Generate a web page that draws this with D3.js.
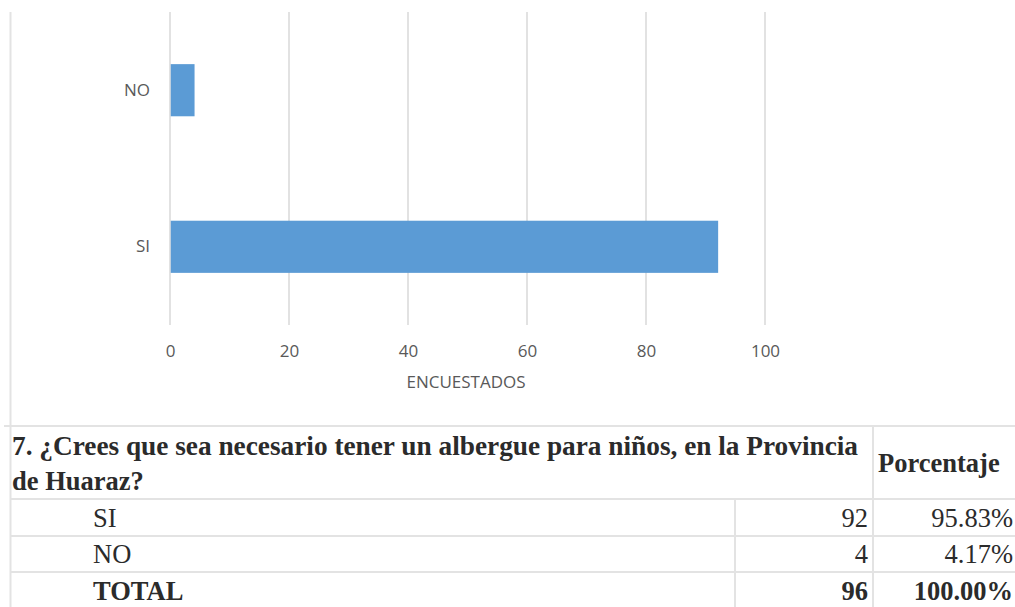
<!DOCTYPE html>
<html>
<head>
<meta charset="utf-8">
<script src="https://cdn.jsdelivr.net/npm/d3@7"></script>
<style>
  html, body { margin: 0; padding: 0; background: #fff; }
  svg { display: block; }
  .tick-label { font-family: "Open Sans", "Noto Sans", sans-serif; font-size: 17px; fill: #595959; }
  .cell { font-family: "Liberation Serif", "Times New Roman", serif; font-size: 26.5px; fill: #2b2b2b; }
</style>
</head>
<body>
<div id="chart"></div>
<script>
(function () {
  'use strict';

  // chart data
  var categories = ['NO', 'SI'];
  var respondents = [4, 92];
  var xTicks = [0, 20, 40, 60, 80, 100];
  var xTitle = 'ENCUESTADOS';

  // table data
  var questionLines = ['7. ¿Crees que sea necesario tener un albergue para niños, en la Provincia', 'de Huaraz?'];
  var pctHeader = 'Porcentaje';
  var rowLabels = ['SI', 'NO'];
  var rowCounts = [92, 4];
  var rowPcts = ['95.83%', '4.17%'];
  var totalLabel = 'TOTAL';
  var totalCount = 96;
  var totalPct = '100.00%';

  var W = 1015, H = 607;
  var gridColor = '#d9d9d9';
  var lineColor = '#e3e3e3';

  var svg = d3.select('#chart').append('svg').attr('width', W).attr('height', H);

  var x = d3.scaleLinear().domain([0, 100]).range([170, 765]);
  var y = d3.scaleBand().domain(categories).range([12, 325]).paddingInner(0.667).paddingOuter(0.333);

  // frame line on the left
  svg.append('line').attr('x1', 10.5).attr('x2', 10.5).attr('y1', 12).attr('y2', H)
    .attr('stroke', lineColor).attr('stroke-width', 2);

  // gridlines
  svg.append('g').selectAll('line').data(xTicks).join('line')
    .attr('x1', function (d) { return x(d); })
    .attr('x2', function (d) { return x(d); })
    .attr('y1', 12).attr('y2', 325)
    .attr('stroke', gridColor).attr('stroke-width', 1.5);

  // bars
  var data = categories.map(function (c, i) { return { cat: c, v: respondents[i] }; });
  svg.append('g').selectAll('rect').data(data).join('rect')
    .attr('x', x(0) + 0.75)
    .attr('y', function (d) { return y(d.cat); })
    .attr('width', function (d) { return x(d.v) - x(0); })
    .attr('height', y.bandwidth())
    .attr('fill', '#5b9bd5');

  // x axis labels
  var xAxis = d3.axisBottom(x).tickValues(xTicks).tickSize(0).tickPadding(0);
  var gx = svg.append('g').attr('transform', 'translate(0,357)').call(xAxis);
  gx.select('.domain').remove();
  gx.selectAll('text').attr('class', 'tick-label').attr('fill', null).attr('dy', null).attr('y', 0);
  gx.attr('font-family', null).attr('font-size', null);

  // y axis labels
  var yAxis = d3.axisLeft(y).tickSize(0).tickPadding(20);
  var gy = svg.append('g').attr('transform', 'translate(' + x(0) + ',0)').call(yAxis);
  gy.select('.domain').remove();
  gy.selectAll('text').attr('class', 'tick-label').attr('fill', null);
  gy.attr('font-family', null).attr('font-size', null);

  svg.append('text').attr('class', 'tick-label')
    .attr('x', 466).attr('y', 388).attr('text-anchor', 'middle').text(xTitle);

  // table
  var colA = 10, colB = 735, colC = 873, colD = W;
  var rows = [426, 499, 536, 572, 608];
  var t = svg.append('g');
  rows.forEach(function (ry, i) {
    t.append('line').attr('x1', i === 0 ? 4 : colA).attr('x2', colD).attr('y1', ry).attr('y2', ry)
      .attr('stroke', lineColor).attr('stroke-width', 2);
  });
  t.append('line').attr('x1', colC).attr('x2', colC).attr('y1', rows[0]).attr('y2', H)
    .attr('stroke', lineColor).attr('stroke-width', 2);
  t.append('line').attr('x1', colB).attr('x2', colB).attr('y1', rows[1]).attr('y2', H)
    .attr('stroke', lineColor).attr('stroke-width', 2);

  t.selectAll('text.q').data(questionLines).join('text')
    .attr('class', 'cell q')
    .attr('x', 12)
    .attr('y', function (d, i) { return 455 + i * 35; })
    .attr('font-weight', 'bold')
    .attr('textLength', function (d, i) { return i === 0 ? 846 : null; })
    .attr('lengthAdjust', 'spacingAndGlyphs')
    .text(function (d) { return d; });

  t.append('text').attr('class', 'cell').attr('font-weight', 'bold')
    .attr('x', 878).attr('y', 472).text(pctHeader);

  var body = rowLabels.map(function (l, i) { return { label: l, count: rowCounts[i], pct: rowPcts[i], bold: false }; });
  body.push({ label: totalLabel, count: totalCount, pct: totalPct, bold: true });
  var baselines = [527, 563, 600];

  body.forEach(function (r, i) {
    var fw = r.bold ? 'bold' : 'normal';
    t.append('text').attr('class', 'cell').attr('font-weight', fw)
      .attr('x', 93).attr('y', baselines[i]).text(r.label);
    t.append('text').attr('class', 'cell').attr('font-weight', fw)
      .attr('x', 868).attr('y', baselines[i]).attr('text-anchor', 'end').text(r.count);
    t.append('text').attr('class', 'cell').attr('font-weight', fw)
      .attr('x', 1013).attr('y', baselines[i]).attr('text-anchor', 'end').text(r.pct);
  });
})();
</script>
</body>
</html>
